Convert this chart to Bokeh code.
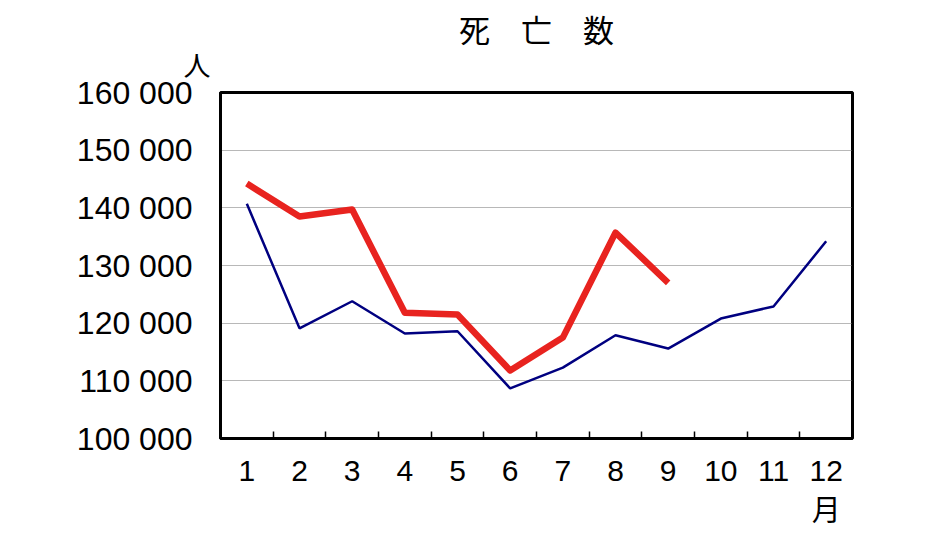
from bokeh.plotting import figure
from bokeh.models import FixedTicker, LinearAxis, Range1d, Title
from bokeh.embed import file_html
from bokeh.resources import INLINE

months = [1, 2, 3, 4, 5, 6, 7, 8, 9, 10, 11, 12]
month_labels = ["1", "2", "3", "4", "5", "6", "7", "8", "9", "10", "11", "12"]
deaths_prev = [140700, 119100, 123800, 118200, 118600, 108700, 112300, 117900, 115600, 120800, 122900, 134200]
months_curr = [1, 2, 3, 4, 5, 6, 7, 8, 9]
deaths_curr = [144200, 138500, 139700, 121800, 121500, 111800, 117500, 135700, 127000]
y_ticks = [100000, 110000, 120000, 130000, 140000, 150000, 160000]
y_tick_labels = ["100 000", "110 000", "120 000", "130 000", "140 000", "150 000", "160 000"]

title_text = "死　亡　数"
y_unit = "人"
x_unit = "月"

NUM_FONT = "Liberation Sans"
CJK_FONT = "Noto Sans CJK JP"
W, H = 909, 532

p = figure(width=W, height=H, output_backend="svg", toolbar_location=None,
           x_range=Range1d(0.5, 12.5), y_range=Range1d(100000, 160000),
           min_border_left=220, min_border_right=57, min_border_top=92, min_border_bottom=H - 438)
p.border_fill_color = "white"
p.background_fill_color = "white"
p.outline_line_color = "black"
p.outline_line_width = 3

p.title.text = title_text
p.title.align = "center"
p.title.text_font = CJK_FONT
p.title.text_font_size = "31px"
p.title.text_font_style = "normal"
p.title.text_color = "black"
p.title.offset = 0
p.title.standoff = -34

unit_title = Title(text=y_unit, align="left", offset=-37, standoff=18,
                   text_font=CJK_FONT, text_font_size="27px", text_font_style="normal",
                   text_color="black")
p.add_layout(unit_title, "above")

# grid
p.xgrid.visible = False
p.ygrid.ticker = FixedTicker(ticks=y_ticks[1:-1])
p.ygrid.grid_line_color = "#707070"
p.ygrid.grid_line_dash = "1 1"
p.ygrid.grid_line_width = 1

# x axis
xa = p.xaxis[0]
xa.ticker = FixedTicker(ticks=months, minor_ticks=[m + 0.5 for m in months[:-1]])
xa.major_label_overrides = {m: l for m, l in zip(months, month_labels)}
xa.major_tick_in = 0
xa.major_tick_out = 0
xa.minor_tick_in = 7
xa.minor_tick_out = 0
xa.minor_tick_line_color = "black"
xa.minor_tick_line_width = 1.5
xa.axis_line_width = 3
xa.major_label_text_font = NUM_FONT
xa.major_label_text_font_size = "30px"
xa.major_label_text_color = "black"
xa.major_label_standoff = 22

# unit of the x axis, under the last month
ua = LinearAxis(ticker=FixedTicker(ticks=[months[-1]]),
                major_label_overrides={months[-1]: x_unit})
ua.axis_line_color = None
ua.major_tick_line_color = None
ua.minor_tick_line_color = None
ua.major_tick_in = 0
ua.major_tick_out = 0
ua.major_label_standoff = 3
ua.major_label_text_font = CJK_FONT
ua.major_label_text_font_size = "29px"
ua.major_label_text_color = "black"
p.add_layout(ua, "below")

# y axis
ya = p.yaxis[0]
ya.ticker = FixedTicker(ticks=y_ticks)
ya.major_label_overrides = {v: l for v, l in zip(y_ticks, y_tick_labels)}
ya.major_tick_in = 0
ya.major_tick_out = 0
ya.minor_tick_line_color = None
ya.axis_line_width = 3
ya.major_label_text_font = NUM_FONT
ya.major_label_text_font_size = "32px"
ya.major_label_text_color = "black"
ya.major_label_standoff = 28

p.line(months, deaths_prev, line_color="#000080", line_width=2.5)
p.line(months_curr, deaths_curr, line_color="#e8231f", line_width=6.5, line_join="round")

open("out.html", "w").write(file_html(p, INLINE))
